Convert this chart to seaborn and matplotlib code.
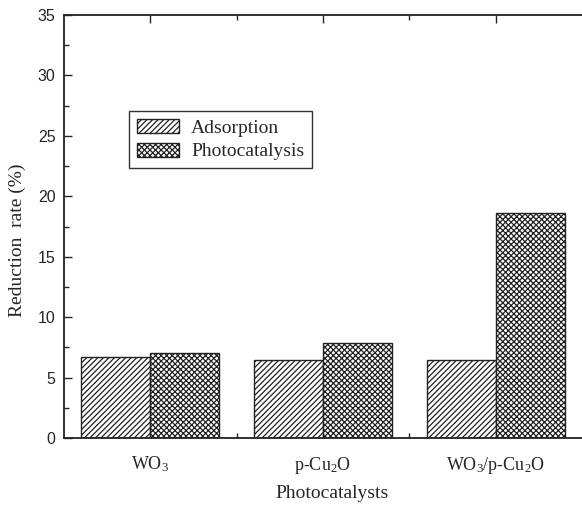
import matplotlib
matplotlib.use("Agg")
import matplotlib.pyplot as plt
import seaborn as sns
import pandas as pd
from matplotlib.ticker import MultipleLocator, FixedLocator

categories = [r"$\mathrm{WO_3}$", r"$\mathrm{p}$-$\mathrm{Cu_2O}$", r"$\mathrm{WO_3/p}$-$\mathrm{Cu_2O}$"]
series = ["Adsorption", "Photocatalysis"]
adsorption = [6.7, 6.45, 6.45]
photocatalysis = [7.05, 7.85, 18.6]

sns.set_style("ticks")
plt.rcParams["font.family"] = ["Liberation Serif", "DejaVu Serif"]
plt.rcParams["mathtext.fontset"] = "custom"
plt.rcParams["mathtext.rm"] = "Liberation Serif"
plt.rcParams["mathtext.it"] = "Liberation Serif:italic"
plt.rcParams["hatch.linewidth"] = 0.9
plt.rcParams["hatch.color"] = "#222222"

df = pd.DataFrame({
    "cat": categories * 2,
    "series": [series[0]] * 3 + [series[1]] * 3,
    "val": adsorption + photocatalysis,
})

fig = plt.figure(figsize=(5.82, 5.09), dpi=100)
ax = fig.add_axes([0.110, 0.1395, 0.890, 0.831])

sns.barplot(data=df, x="cat", y="val", hue="series", order=categories,
            hue_order=series, palette=["white", "white"], edgecolor="black",
            linewidth=1.0, width=0.8, ax=ax, legend=True, saturation=1)

hatches = ["//////", "xxxxxx"]
for cont, h in zip(ax.containers, hatches):
    for p in cont:
        p.set_hatch(h)
        p.set_edgecolor("#222222")
        p.set_facecolor("white")

ax.set_xlim(-0.5, 2.5)
ax.set_ylim(0, 35)
ax.yaxis.set_major_locator(MultipleLocator(5))
ax.yaxis.set_minor_locator(MultipleLocator(2.5))
ax.xaxis.set_minor_locator(FixedLocator([0.5, 1.5]))

for s in ["left", "bottom", "top"]:
    ax.spines[s].set_linewidth(1.3)
    ax.spines[s].set_color("#222222")
ax.spines["right"].set_visible(False)

ax.tick_params(axis="both", which="major", direction="in", length=6, width=1.0, top=True, right=False)
ax.tick_params(axis="both", which="minor", direction="in", length=3.5, width=1.0, top=True, right=False)
ax.tick_params(axis="x", labelsize=13, pad=12)
ax.tick_params(axis="y", labelsize=11.5, pad=6)
for lab in ax.get_yticklabels():
    lab.set_family(["Liberation Sans", "DejaVu Sans"])

ax.set_xlabel("Photocatalysts", fontsize=14)
ax.xaxis.set_label_coords(0.517, -0.112)
ax.set_ylabel("Reduction  rate (%)", fontsize=14)
ax.yaxis.set_label_coords(-0.073, 0.468)

handles, labels = ax.get_legend_handles_labels()
for hnd, h in zip(handles, hatches):
    hnd.set_hatch(h)
    hnd.set_facecolor("white")
    hnd.set_edgecolor("#222222")
leg = ax.legend(handles, labels, loc="upper left", bbox_to_anchor=(0.125, 0.773),
                borderaxespad=0, fancybox=False, framealpha=1, edgecolor="#333333",
                fontsize=14, handlelength=2.2, handleheight=0.75, labelspacing=0.3,
                borderpad=0.4, handletextpad=0.6)
leg.get_frame().set_linewidth(1.0)

fig.savefig("out.png", dpi=100)
